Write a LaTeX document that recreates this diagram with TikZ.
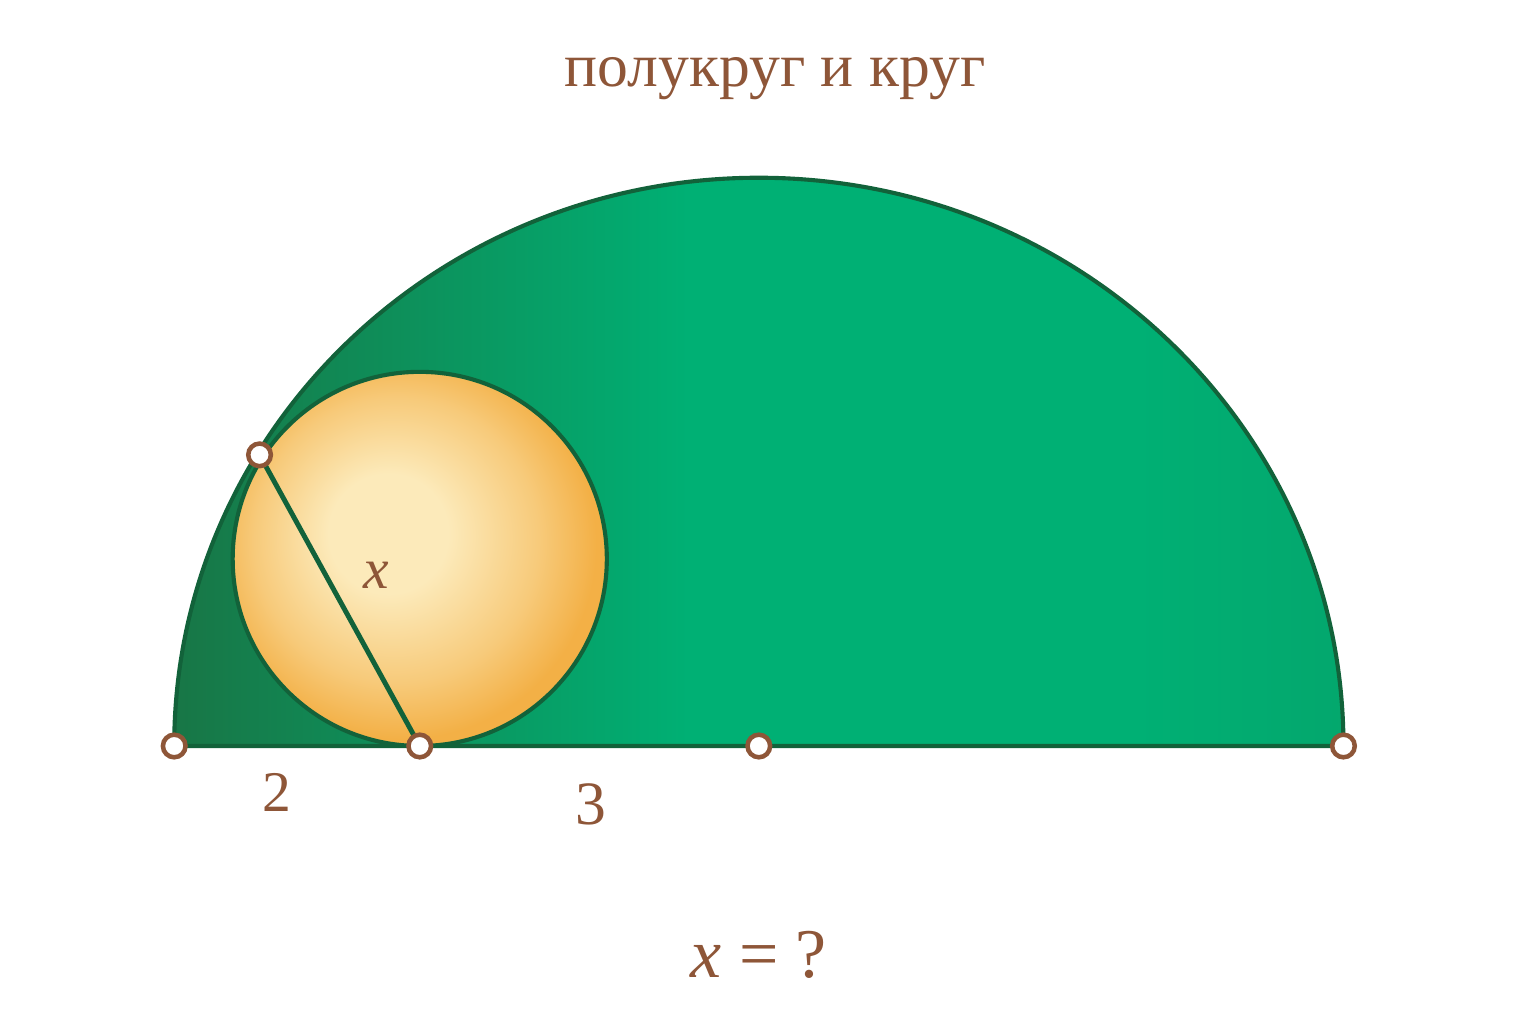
\documentclass[tikz,border=0pt]{standalone}
\usepackage{fontspec}
\setmainfont{Liberation Serif}
\usetikzlibrary{positioning}

\definecolor{gdark}{RGB}{24,118,70}
\definecolor{gmid}{RGB}{0,176,116}
\definecolor{gedge}{RGB}{18,98,58}
\definecolor{cream}{RGB}{252,234,186}
\definecolor{orng}{RGB}{243,176,70}
\definecolor{brwn}{RGB}{142,86,56}

\pgfdeclarehorizontalshading{semi}{100bp}{color(0bp)=(gdark); color(25bp)=(gdark);
  color(47bp)=(gmid); color(66bp)=(gmid); color(75bp)=(gmid!85!gdark); color(100bp)=(gmid!85!gdark)}
\pgfdeclareradialshading{disk}{\pgfpoint{-5bp}{4bp}}{color(0bp)=(cream); color(8bp)=(cream);
  color(19bp)=(cream!45!orng); color(26bp)=(orng); color(50bp)=(orng)}

\begin{document}
\begin{tikzpicture}[thick,
    dot node/.style={circle,draw=brwn,fill=white,line width=1.1pt,inner sep=0pt,minimum size=5.5pt},
    label node/.style={text=brwn,font=\fontsize{14}{17}\selectfont}]

  \useasboundingbox (-6.49,-2.38) rectangle (6.51,6.38);

  % big semicircle
  \path[shading=semi]
    (-5,0) arc[start angle=180,end angle=0,x radius=5,y radius=4.86] -- cycle;
  \draw[gedge,line width=1pt,line join=round]
    (-5,0) arc[start angle=180,end angle=0,x radius=5,y radius=4.86] -- cycle;

  % small circle
  \path[shading=disk] (-2.90,1.60) circle[radius=1.60];
  \draw[gedge,line width=1pt] (-2.90,1.60) circle[radius=1.60];

  \coordinate (A) at (-5,0);
  \coordinate (B) at (-2.90,0);
  \coordinate (O) at (0,0);
  \coordinate (C) at (5,0);
  \coordinate (T) at (-4.27,2.49);

  \draw[gedge,line width=1.2pt] (T) -- (B);

  \node[dot node] (a) at (A) {};
  \node[dot node] (b) at (B) {};
  \node[dot node] (o) at (O) {};
  \node[dot node] (c) at (C) {};
  \node[dot node] (t) at (T) {};

  \node[label node] (lx) at (-3.27,1.46) {\itshape x};
  \node[label node] (l2) at (-4.12,-0.40) {2};
  \node[label node,font=\fontsize{15}{18}\selectfont] (l3) at (-1.44,-0.50) {3};

  \node[label node,font=\fontsize{15}{18}\selectfont] (title) at (0.14,5.71) {полукруг и круг};
  \node[label node,font=\fontsize{17}{20}\selectfont] (q) at (0,-1.79) {\itshape x\upshape{} = ?};

\end{tikzpicture}
\end{document}
